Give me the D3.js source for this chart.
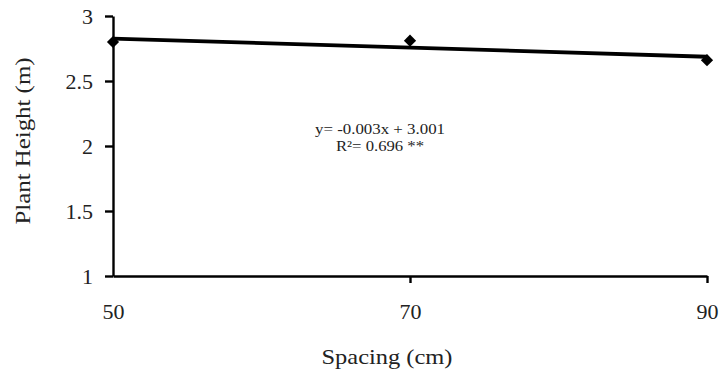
<!DOCTYPE html>
<html>
<head>
<meta charset="utf-8">
<script src="https://cdn.jsdelivr.net/npm/d3@7"></script>
<style>
  body { margin: 0; background: #fff; }
  svg { display: block; }
  text { font-family: "Liberation Serif", "Times New Roman", serif; fill: #222; }
</style>
</head>
<body>
<svg id="chart" width="721" height="369"></svg>
<script>
// Plant height at each row spacing
const spacing = [50, 70, 90];
const height = [2.80, 2.81, 2.66];
const xTicks = [50, 70, 90];
const yTicks = [1, 1.5, 2, 2.5, 3];
const equationLines = ["y= -0.003x + 3.001", "R²= 0.696 **"];

const svg = d3.select("#chart");
const margin = { left: 113, right: 14, top: 16, bottom: 93 };
const W = 721, H = 369;

const x = d3.scaleLinear().domain([50, 90]).range([margin.left, W - margin.right]);
const y = d3.scaleLinear().domain([1, 3]).range([H - margin.bottom, margin.top]);

// axes
const xAxis = svg.append("g")
  .attr("transform", `translate(0,${y(1)})`)
  .call(d3.axisBottom(x).tickValues(xTicks).tickSize(7).tickPadding(20).tickSizeOuter(0));
const yAxis = svg.append("g")
  .attr("transform", `translate(${x(50)},0)`)
  .call(d3.axisLeft(y).tickValues(yTicks).tickFormat(d3.format("")).tickSize(8).tickPadding(12).tickSizeOuter(0));

[xAxis, yAxis].forEach(g => {
  g.selectAll("path.domain").attr("stroke", "#000").attr("stroke-width", 2.4);
  g.selectAll(".tick line").attr("stroke", "#000").attr("stroke-width", 2.4);
  g.selectAll(".tick text").style("font-family", '"Liberation Serif", serif').style("font-size", "22px").attr("fill", "#222");
});
xAxis.selectAll(".tick").filter(d => d === 50).select("line").remove();

// least-squares linear trend through the points
const mx = d3.mean(spacing), my = d3.mean(height);
const slope = d3.sum(spacing, (v, i) => (v - mx) * (height[i] - my)) / d3.sum(spacing, v => (v - mx) ** 2);
const intercept = my - slope * mx;
const xr = x.domain();
svg.append("line")
  .attr("x1", x(xr[0])).attr("y1", y(intercept + slope * xr[0]))
  .attr("x2", x(xr[1])).attr("y2", y(intercept + slope * xr[1]))
  .attr("stroke", "#000").attr("stroke-width", 3.8);

// diamond markers
svg.selectAll("path.pt").data(spacing).join("path")
  .attr("class", "pt")
  .attr("d", d3.symbol(d3.symbolDiamond2, 95))
  .attr("transform", (d, i) => `translate(${x(d)},${y(height[i])})`)
  .attr("fill", "#000");

// regression equation
const eq = svg.append("text")
  .attr("text-anchor", "middle")
  .style("font-size", "15px");
eq.selectAll("tspan").data(equationLines).join("tspan")
  .attr("x", 380)
  .attr("y", (d, i) => 134 + i * 17)
  .attr("textLength", (d, i) => i === 0 ? 130 : 88)
  .attr("lengthAdjust", "spacingAndGlyphs")
  .text(d => d);

// axis titles
svg.append("text")
  .attr("x", 387).attr("y", 364)
  .attr("text-anchor", "middle")
  .attr("textLength", 131)
  .attr("lengthAdjust", "spacingAndGlyphs")
  .style("font-size", "22px")
  .text("Spacing (cm)");
svg.append("text")
  .attr("transform", `translate(30,141) rotate(-90)`)
  .attr("text-anchor", "middle")
  .attr("textLength", 167)
  .attr("lengthAdjust", "spacingAndGlyphs")
  .style("font-size", "22px")
  .text("Plant Height (m)");
</script>
</body>
</html>
